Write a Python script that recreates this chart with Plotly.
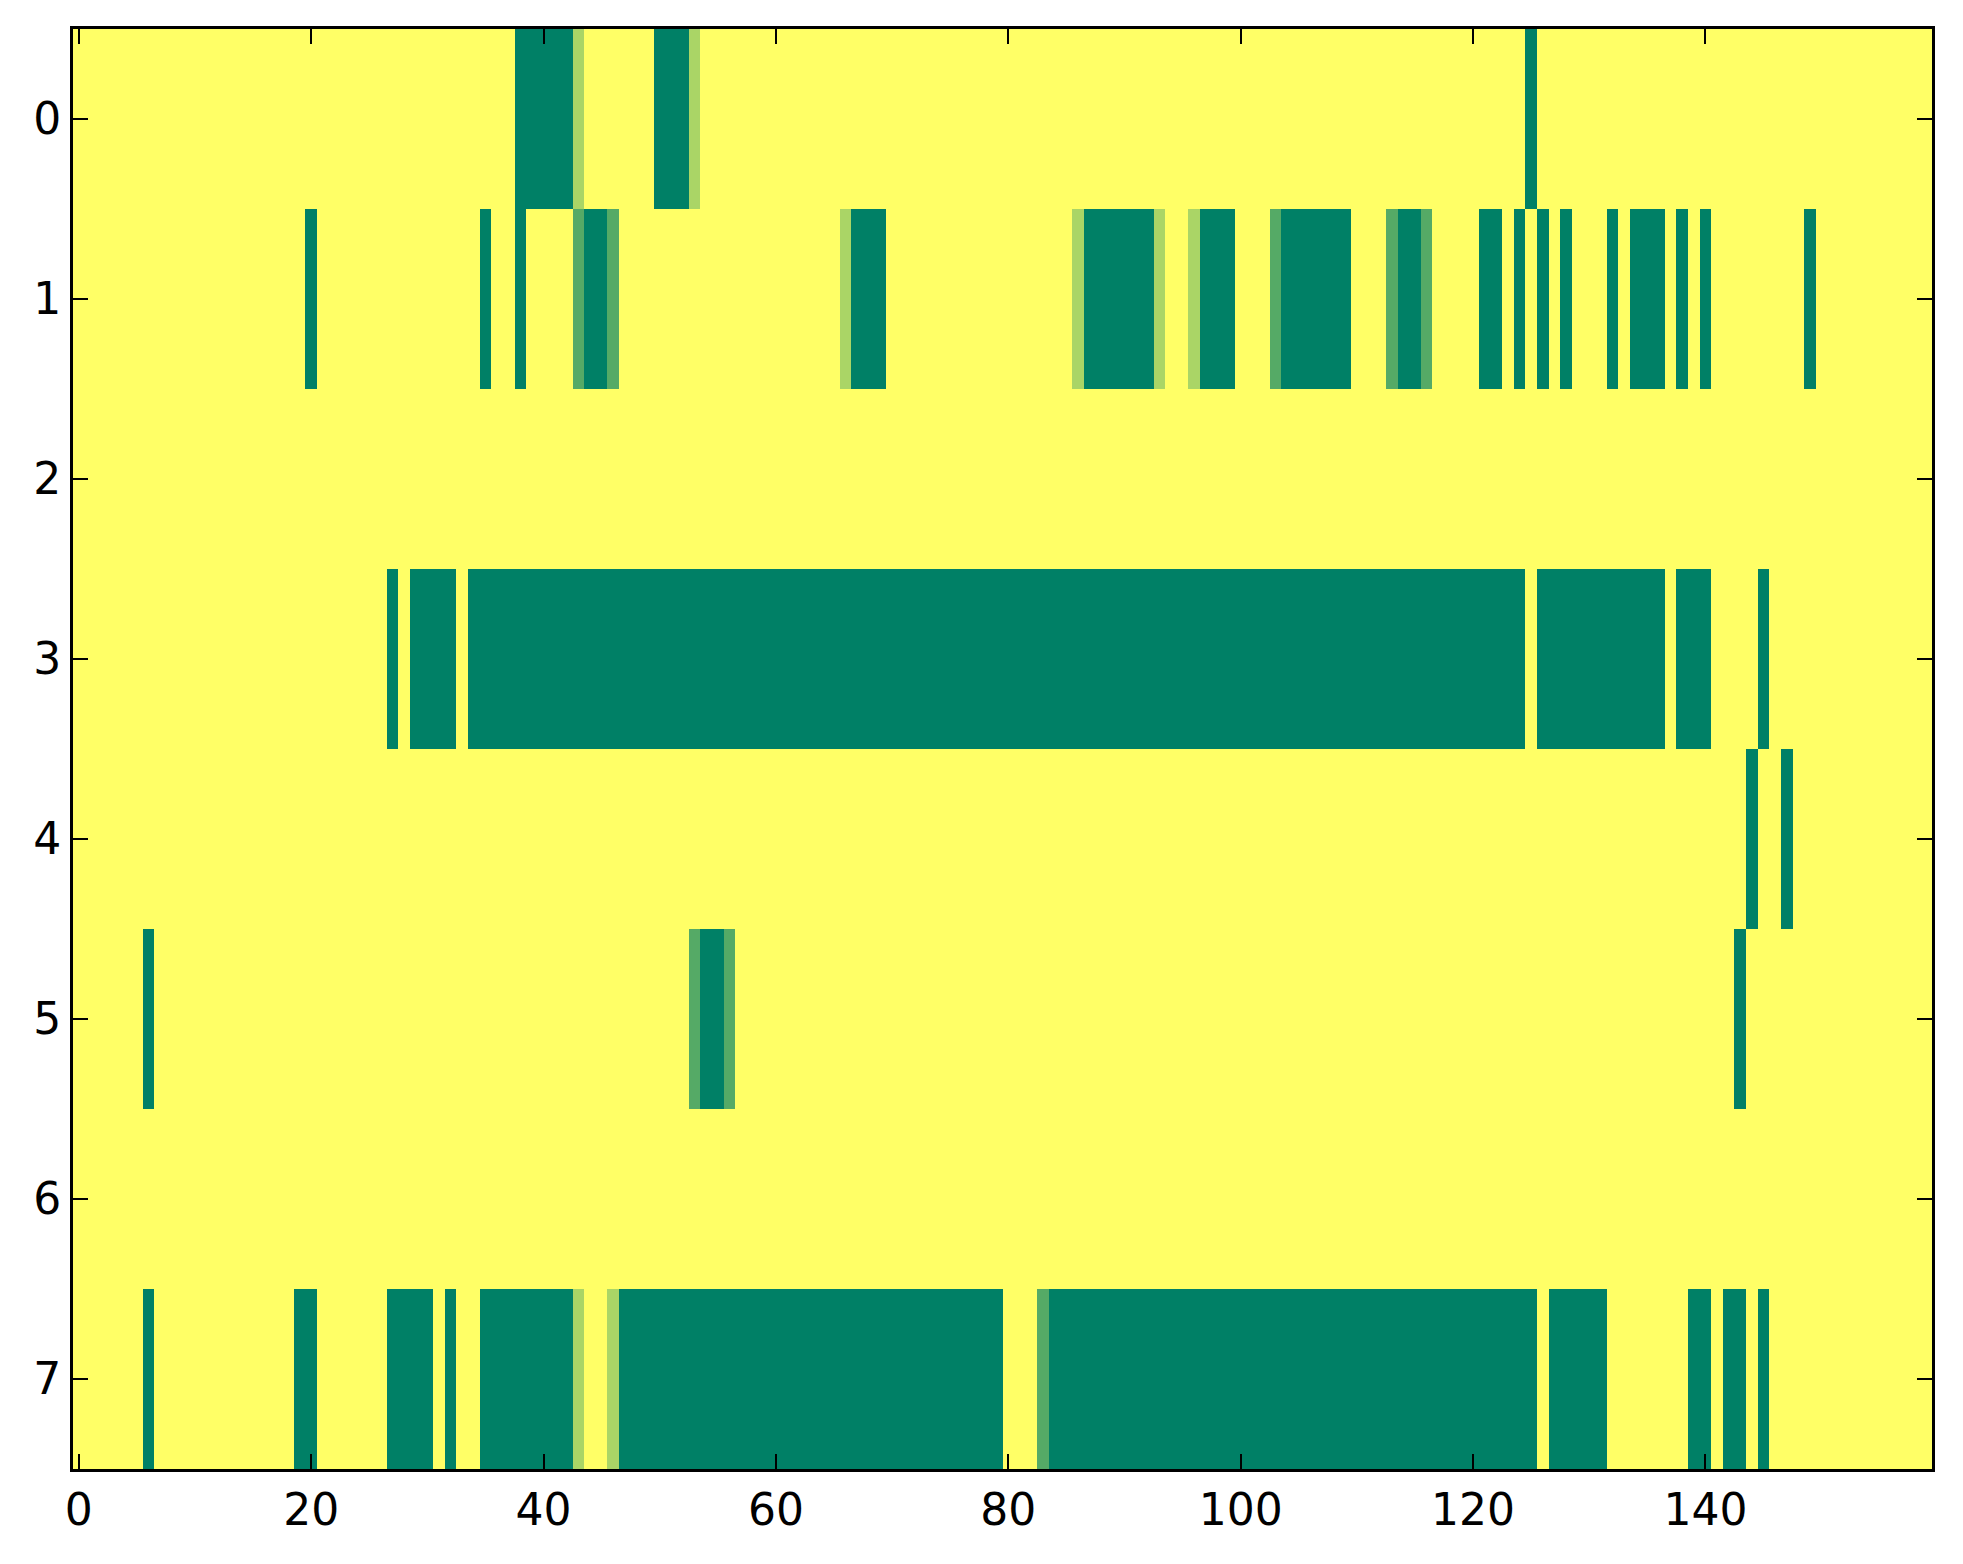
import plotly.graph_objects as go

# ---- data ----
n_cols = 160
row_labels = [0, 1, 2, 3, 4, 5, 6, 7]
x_ticks = [0, 20, 40, 60, 80, 100, 120, 140]
background_value = 1.0
# runs per row: (first column, last column, value)
row0_runs = [(38, 42, 0.0), (43, 43, 0.667), (50, 52, 0.0), (53, 53, 0.667), (125, 125, 0.0)]
row1_runs = [(20, 20, 0.0), (35, 35, 0.0), (38, 38, 0.0), (43, 43, 0.333), (44, 45, 0.0),
             (46, 46, 0.333), (66, 66, 0.667), (67, 69, 0.0), (86, 86, 0.667), (87, 92, 0.0),
             (93, 93, 0.667), (96, 96, 0.667), (97, 99, 0.0), (103, 103, 0.333), (104, 109, 0.0),
             (113, 113, 0.333), (114, 115, 0.0), (116, 116, 0.333), (121, 122, 0.0),
             (124, 124, 0.0), (126, 126, 0.0), (128, 128, 0.0), (132, 132, 0.0),
             (134, 136, 0.0), (138, 138, 0.0), (140, 140, 0.0), (149, 149, 0.0)]
row2_runs = []
row3_runs = [(27, 27, 0.0), (29, 32, 0.0), (34, 124, 0.0), (126, 136, 0.0), (138, 140, 0.0),
             (145, 145, 0.0)]
row4_runs = [(144, 144, 0.0), (147, 147, 0.0)]
row5_runs = [(6, 6, 0.0), (53, 53, 0.333), (54, 55, 0.0), (56, 56, 0.333), (143, 143, 0.0)]
row6_runs = []
row7_runs = [(6, 6, 0.0), (19, 20, 0.0), (27, 30, 0.0), (32, 32, 0.0), (35, 42, 0.0),
             (43, 43, 0.667), (46, 46, 0.667), (47, 79, 0.0), (83, 83, 0.333), (84, 125, 0.0),
             (127, 131, 0.0), (139, 140, 0.0), (142, 143, 0.0), (145, 145, 0.0)]

all_runs = [row0_runs, row1_runs, row2_runs, row3_runs, row4_runs, row5_runs, row6_runs, row7_runs]

z = []
for runs in all_runs:
    row = [background_value] * n_cols
    for a, b, v in runs:
        for c in range(a, b + 1):
            row[c] = v
    z.append(row)

# matplotlib "summer" colormap
summer = [[0.0, "rgb(0,128,102)"], [1.0, "rgb(255,255,102)"]]

fig = go.Figure(go.Heatmap(
    z=z, x=list(range(n_cols)), y=row_labels,
    colorscale=summer, zmin=0, zmax=1, showscale=False,
    hoverinfo="skip",
))

axis_common = dict(
    showline=True, linecolor="black", linewidth=3, mirror="allticks",
    ticks="inside", ticklen=15, tickwidth=1.5, tickcolor="black",
    showgrid=False, zeroline=False,
    tickfont=dict(family="DejaVu Sans", size=44, color="black"),
)

fig.update_layout(
    width=1963, height=1564,
    margin=dict(l=65, r=39, t=21, b=103),
    paper_bgcolor="white", plot_bgcolor="white",
    xaxis=dict(range=[-0.5, n_cols - 0.5], tickmode="array", tickvals=x_ticks,
               ticktext=[str(t) for t in x_ticks], **axis_common),
    yaxis=dict(range=[7.5, -0.5], tickmode="array", tickvals=row_labels,
               ticktext=[str(t) for t in row_labels], **axis_common),
)

fig.write_html("out.html")
